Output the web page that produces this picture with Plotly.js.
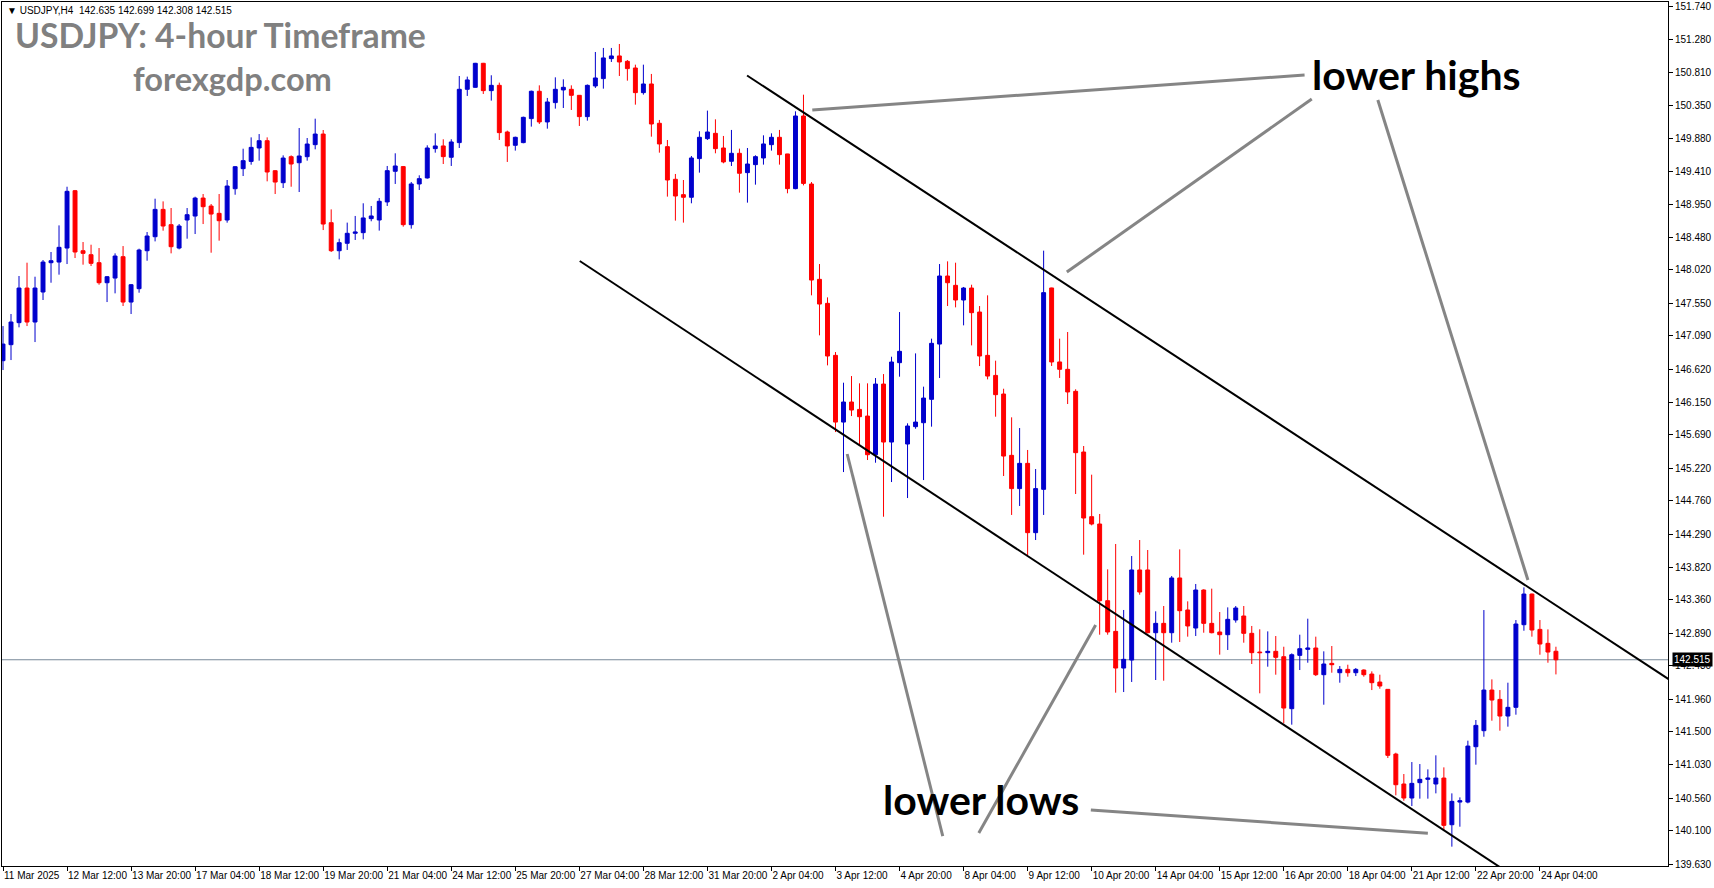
<!DOCTYPE html>
<html>
<head>
<meta charset="utf-8">
<script src="https://cdn.plot.ly/plotly-3.0.1.min.js"></script>
<style>
html,body{margin:0;padding:0;background:#fff;}
#chart{width:1714px;height:888px;}
</style>
</head>
<body>
<div id="chart"></div>
<script>
// 4-hour bars, 11 Mar 2025 04:00 .. 24 Apr 2025 12:00
const openP = [146.739,146.965,147.276,147.765,147.285,147.709,148.123,148.132,148.330,149.140,
148.292,148.236,148.123,147.840,147.906,148.208,147.567,147.756,148.292,148.490,
148.876,148.660,148.330,148.726,148.782,149.036,148.923,148.820,148.726,149.168,
149.451,149.554,149.743,149.846,149.422,149.253,149.620,149.535,149.620,149.790,
149.940,148.688,148.292,148.397,148.538,148.547,148.745,148.726,148.981,149.414,
149.480,148.660,149.235,149.320,149.734,149.772,149.612,149.819,150.572,150.600,
150.939,150.553,150.628,149.969,149.781,149.819,150.158,150.544,150.111,150.384,
150.563,150.572,150.487,150.186,150.619,150.723,151.005,151.043,150.967,150.873,
150.525,150.647,150.092,149.762,149.301,149.084,149.047,149.593,149.875,149.950,
149.743,149.555,149.668,149.395,149.508,149.602,149.790,149.894,149.659,149.169,
150.195,149.234,147.888,147.549,146.814,145.872,146.155,146.051,145.957,145.411,
146.409,145.590,146.711,145.562,145.807,145.863,146.193,146.974,147.935,147.803,
147.596,147.765,147.426,146.814,146.531,146.268,145.402,144.932,145.289,144.310,
144.922,147.766,146.721,146.617,146.306,145.449,144.536,144.432,143.349,142.916,
142.398,142.511,143.783,143.783,142.897,143.029,142.897,143.670,143.218,142.963,
143.500,143.029,142.907,142.869,143.076,143.133,142.888,142.624,142.615,142.634,
142.558,141.824,142.577,142.662,142.681,142.304,142.464,142.332,142.379,142.332,
142.370,142.313,142.200,142.097,141.183,140.760,140.562,140.779,140.826,140.760,
140.844,140.185,140.505,140.505,141.287,141.513,142.087,141.955,141.720,141.843,
143.010,143.443,142.944,142.747,142.635];
const highP = [147.228,147.398,147.935,148.123,147.925,148.161,148.274,148.650,149.196,149.150,
148.415,148.377,148.330,147.935,148.255,148.358,147.822,148.321,148.556,149.027,
148.989,148.895,148.669,148.895,149.055,149.093,148.952,149.093,149.291,149.488,
149.733,149.893,149.940,149.893,149.430,149.639,149.639,150.025,149.884,150.157,
149.997,148.876,148.462,148.689,148.783,148.962,148.924,149.037,149.489,149.668,
149.489,149.263,149.357,149.781,149.950,149.866,149.866,150.760,150.751,150.945,
150.945,150.770,150.666,149.988,149.903,150.186,150.553,150.628,150.450,150.741,
150.713,150.628,150.490,150.640,151.099,151.156,151.156,151.212,150.986,150.920,
150.920,150.789,150.139,149.856,149.376,149.291,149.630,149.979,150.271,150.148,
149.913,149.998,149.734,149.743,149.640,149.922,149.950,149.998,149.660,150.261,
150.496,149.262,148.104,147.633,146.861,146.428,146.522,146.419,146.419,146.494,
146.550,146.795,147.426,145.854,146.842,146.372,147.050,148.104,148.142,148.123,
147.780,147.812,147.511,147.662,146.739,146.343,145.939,145.788,145.478,145.209,
148.293,147.770,147.050,147.144,146.335,145.534,145.129,144.574,143.792,144.150,
143.218,143.980,144.206,144.065,143.199,143.274,143.698,144.074,143.340,143.585,
143.510,143.519,143.189,143.255,143.274,143.274,142.992,142.945,142.916,142.850,
142.699,142.605,142.869,143.095,142.841,142.634,142.709,142.426,142.445,142.398,
142.379,142.351,142.304,142.100,141.202,140.901,141.070,141.042,140.967,141.165,
140.995,140.628,140.571,141.372,141.664,143.217,142.238,142.087,142.191,143.076,
143.537,143.450,143.076,142.944,142.699];
const lowP = [146.607,146.748,147.210,147.228,147.002,147.596,147.840,147.954,148.104,148.189,
148.095,148.076,147.812,147.567,147.690,147.511,147.398,147.699,148.151,148.424,
148.575,148.255,148.311,148.462,148.528,148.669,148.264,148.434,148.688,149.083,
149.347,149.507,149.564,149.272,149.093,149.178,149.196,149.121,149.564,149.724,
148.584,148.274,148.170,148.303,148.444,148.453,148.708,148.576,148.924,149.235,
148.632,148.604,149.150,149.310,149.677,149.517,149.489,149.743,150.478,150.595,
150.506,150.412,149.856,149.546,149.706,149.810,150.045,150.082,150.016,150.299,
150.308,150.280,150.054,150.129,150.591,150.581,150.958,150.760,150.694,150.355,
150.497,149.903,149.677,149.056,148.717,148.689,148.962,149.395,149.856,149.668,
149.527,149.489,149.112,148.971,149.225,149.508,149.706,149.508,149.103,149.160,
149.215,147.662,147.097,146.673,145.731,145.166,145.957,145.543,145.336,145.298,
144.535,145.025,146.513,144.799,145.778,145.053,145.807,146.494,147.511,147.492,
147.238,146.955,146.663,146.475,145.948,145.110,144.560,144.687,143.990,144.206,
144.560,146.664,146.495,146.127,144.856,143.999,144.413,142.869,142.869,142.050,
142.059,142.201,143.434,142.888,142.229,142.219,142.756,142.766,142.841,142.850,
142.897,142.888,142.587,142.653,143.039,142.756,142.455,142.041,142.417,142.304,
141.617,141.598,142.370,142.473,142.285,141.880,142.332,142.191,142.276,142.285,
142.276,142.087,142.106,141.127,140.600,140.524,140.449,140.553,140.553,140.628,
140.110,139.875,140.157,140.487,141.033,141.428,141.654,141.513,141.570,141.739,
142.925,142.841,142.586,142.473,142.308];
const closeP = [146.974,147.285,147.765,147.285,147.765,148.132,148.151,148.340,149.131,148.274,
148.255,148.114,147.840,147.925,148.217,147.567,147.812,148.302,148.500,148.876,
148.641,148.349,148.641,148.801,149.036,148.914,148.810,148.716,149.206,149.479,
149.564,149.752,149.846,149.404,149.262,149.601,149.517,149.630,149.799,149.940,
148.669,148.292,148.406,148.538,148.557,148.755,148.783,148.990,149.423,149.489,
148.660,149.235,149.310,149.743,149.772,149.621,149.828,150.572,150.704,150.939,
150.553,150.628,149.960,149.772,149.894,150.176,150.544,150.111,150.393,150.572,
150.600,150.487,150.186,150.628,150.732,151.015,151.043,150.958,150.864,150.525,
150.647,150.082,149.800,149.291,149.065,149.047,149.602,149.894,149.969,149.734,
149.546,149.668,149.386,149.517,149.621,149.800,149.894,149.649,149.169,150.195,
149.243,147.878,147.539,146.805,145.872,146.155,146.042,145.948,145.411,146.409,
145.590,146.720,146.871,145.816,145.872,146.211,146.984,147.935,147.840,147.596,
147.765,147.417,146.805,146.522,146.259,145.392,144.932,145.289,144.310,144.932,
147.700,146.721,146.617,146.297,145.440,144.517,144.432,143.349,142.907,142.398,
142.521,143.783,143.472,142.897,143.029,142.897,143.670,143.208,142.992,143.500,
143.029,142.897,142.869,143.086,143.246,142.888,142.615,142.615,142.634,142.549,
141.833,142.586,142.671,142.681,142.304,142.455,142.445,142.379,142.332,142.379,
142.304,142.191,142.144,141.165,140.750,140.562,140.769,140.826,140.844,140.844,
140.176,140.515,140.524,141.296,141.588,142.087,141.946,141.720,141.843,143.020,
143.443,142.935,142.737,142.624,142.515];

const timeLabels = ["11 Mar 2025","12 Mar 12:00","13 Mar 20:00","17 Mar 04:00","18 Mar 12:00",
"19 Mar 20:00","21 Mar 04:00","24 Mar 12:00","25 Mar 20:00","27 Mar 04:00","28 Mar 12:00",
"31 Mar 20:00","2 Apr 04:00","3 Apr 12:00","4 Apr 20:00","8 Apr 04:00","9 Apr 12:00",
"10 Apr 20:00","14 Apr 04:00","15 Apr 12:00","16 Apr 20:00","18 Apr 04:00","21 Apr 12:00",
"22 Apr 20:00","24 Apr 04:00"];
const barsPerLabel = 8;

const priceTicks = [151.740,151.280,150.810,150.350,149.880,149.410,148.950,148.480,148.020,
147.550,147.090,146.620,146.150,145.690,145.220,144.760,144.290,143.820,143.360,142.890,
142.430,141.960,141.500,141.030,140.560,140.100,139.630];

const lastPrice = 142.515;
const headerText = "\u25BC USDJPY,H4  142.635 142.699 142.308 142.515";

// channel lines [barIndex, price]
const upperChannel = [[92.95,150.767],[208.25,142.229]];
const lowerChannel = [[72.05,148.147],[195.0,138.99]];
// pointer lines [barIndex, price]
const pointers = [
  [[101.1,150.28],[162.6,150.774]],
  [[132.9,147.991],[163.5,150.435]],
  [[171.75,150.421],[190.5,143.641]],
  [[105.46,145.421],[117.4,140.025]],
  [[136.5,143.006],[121.9,140.068]],
  [[135.9,140.393],[178.0,140.063]]
];

const idx = openP.map((_, i) => i);
const tickIdx = timeLabels.map((_, k) => k * barsPerLabel);

const trace = {
  type: 'candlestick',
  x: idx, open: openP, high: highP, low: lowP, close: closeP,
  increasing: {line: {color: '#0000cd', width: 1}, fillcolor: '#0000cd'},
  decreasing: {line: {color: '#ff0000', width: 1}, fillcolor: '#ff0000'},
  whiskerwidth: 0,
  hoverinfo: 'skip'
};

const shapes = [];
shapes.push({type:'line', xref:'paper', yref:'y', x0:0, x1:1, y0:lastPrice, y1:lastPrice,
  line:{color:'#778899', width:1}, layer:'below'});
[upperChannel, lowerChannel].forEach(l => shapes.push({type:'line', xref:'x', yref:'y',
  x0:l[0][0], y0:l[0][1], x1:l[1][0], y1:l[1][1], line:{color:'#000000', width:2}}));
pointers.forEach(l => shapes.push({type:'line', xref:'x', yref:'y',
  x0:l[0][0], y0:l[0][1], x1:l[1][0], y1:l[1][1], line:{color:'#858585', width:3}}));

const W = 1714, H = 888, ml = 2, mr = 46, mt = 2, mb = 22;
const pw = W - ml - mr, ph = H - mt - mb;
const px = xf => (xf - ml) / pw;
const py = yf => (H - mb - yf) / ph;

const annotations = [
  {text: headerText, xref:'paper', yref:'paper', x: px(5), y: py(11), xanchor:'left', yanchor:'middle',
   showarrow:false, font:{family:'Liberation Sans, Arial, sans-serif', size:10, color:'#000'}},
  {text: 'USDJPY: 4-hour Timeframe', xref:'paper', yref:'paper', x: px(13), y: py(35), xanchor:'left', yanchor:'middle',
   showarrow:false, font:{family:'Lato, sans-serif', size:33.7, color:'#808080', weight:'bold'}},
  {text: 'forexgdp.com', xref:'paper', yref:'paper', x: px(131), y: py(79), xanchor:'left', yanchor:'middle',
   showarrow:false, font:{family:'Lato, sans-serif', size:32.6, color:'#808080', weight:'bold'}},
  {text: 'lower highs', xref:'paper', yref:'paper', x: px(1310), y: py(74), xanchor:'left', yanchor:'middle',
   showarrow:false, font:{family:'Lato, sans-serif', size:41, color:'#000', weight:'bold'}},
  {text: 'lower lows', xref:'paper', yref:'paper', x: px(881), y: py(799), xanchor:'left', yanchor:'middle',
   showarrow:false, font:{family:'Lato, sans-serif', size:41, color:'#000', weight:'bold'}},
  {text: lastPrice.toFixed(3), xref:'paper', yref:'y', x: 1, y: lastPrice, xanchor:'left', yanchor:'middle',
   xshift: 4, showarrow:false, bgcolor:'#000', borderpad:1,
   font:{family:'Liberation Sans, Arial, sans-serif', size:10, color:'#fff'}}
];

const tickFont = {family:'Liberation Sans, Arial, sans-serif', size:10, color:'#000'};

const layout = {
  width: W, height: H,
  margin: {l: ml, r: mr, t: mt, b: mb, pad: 0},
  paper_bgcolor: '#fff', plot_bgcolor: '#fff',
  showlegend: false,
  xaxis: {type:'linear', range:[-0.125, (pw - 1) / 8 - 0.125], tickmode:'array', tickvals: tickIdx, ticktext: timeLabels,
    tickangle: 0, ticks:'outside', ticklen:4, tickcolor:'#000', tickwidth:1, ticklabelposition:'outside right',
    showgrid:false, zeroline:false, showline:true, mirror:true, linecolor:'#000', linewidth:1,
    rangeslider:{visible:false}, tickfont: tickFont, fixedrange:true},
  yaxis: {side:'right', range:[139.602, 151.805], tickmode:'array', tickvals: priceTicks,
    ticktext: priceTicks.map(v => v.toFixed(3)), ticks:'outside', ticklen:4, tickcolor:'#000',
    showgrid:false, zeroline:false, showline:true, mirror:true, linecolor:'#000', linewidth:1,
    tickfont: tickFont, fixedrange:true},
  shapes: shapes,
  annotations: annotations,
  boxgap: 0.3
};

Plotly.newPlot('chart', [trace], layout, {staticPlot:true, displayModeBar:false});
</script>
</body>
</html>
